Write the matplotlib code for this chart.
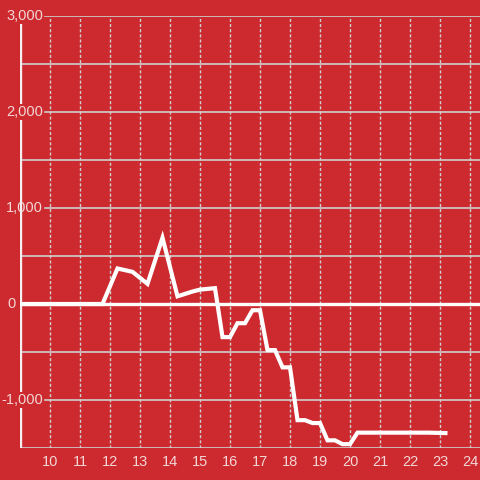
import matplotlib
matplotlib.use("Agg")
import matplotlib.pyplot as plt
import matplotlib.transforms as mtransforms

# ---- data ----
hours = [9.0, 11.75, 12.25, 12.75, 13.25, 13.75, 14.25, 14.75, 15.0, 15.5,
         15.75, 16.0, 16.25, 16.5, 16.75, 17.0, 17.25, 17.5, 17.75, 18.0,
         18.25, 18.5, 18.75, 19.0, 19.25, 19.5, 19.75, 20.0, 20.25, 22.6, 23.25]
values = [0, 0, 370, 335, 210, 690, 80, 130, 150, 165,
          -345, -345, -200, -200, -65, -65, -480, -480, -660, -660,
          -1210, -1210, -1240, -1240, -1420, -1420, -1460, -1460, -1340, -1340, -1345]

x_ticks = list(range(10, 25))
x_tick_labels = [str(t) for t in x_ticks]
y_label_values = [3000, 2000, 1000, 0, -1000]
y_label_texts = ["3,000", "2,000", "1,000", "0", "-1,000"]
y_minor_values = [2500, 1500, 500, -500, -1500]

RED = "#cc2a2f"
GRID = "#cfcfcf"
LABEL = "#f3d6d6"
plt.rcParams['lines.scale_dashes'] = False

fig = plt.figure(figsize=(4.8, 4.8), dpi=100, facecolor=RED)
ax = fig.add_axes([20/480, 32/480, 460/480, 432/480])
ax.set_facecolor(RED)
ax.set_xlim(9, 9 + 460/30)
ax.set_ylim(-1500, 3000)

for s in ax.spines.values():
    s.set_visible(False)
ax.tick_params(left=False, bottom=False, labelleft=False, labelbottom=False)

# vertical dotted gridlines
for t in x_ticks:
    ax.axvline(t, color=GRID, lw=1.0, dashes=(2.2, 1.5), zorder=1)

# horizontal gridlines
label_gap = (45 - 20) / 460
for v in y_label_values:
    if v != 0:
        ax.axhline(v, xmin=label_gap, xmax=1, color=GRID, lw=1.2, zorder=1)
for v in y_minor_values:
    ax.axhline(v, xmin=0, xmax=1, color=GRID, lw=1.2, zorder=1)

# zero line
ax.axhline(0, color="white", lw=2.4, zorder=3)

# left spine
ax.axvline(9, ymin=0, ymax=1, color="#f4f0f0", lw=2.4, zorder=4)

# data line
ax.plot(hours, values, color="white", lw=3.0, solid_joinstyle="miter",
        solid_capstyle="butt", zorder=6)

# y labels
trans = mtransforms.blended_transform_factory(ax.transAxes, ax.transData)
for v, txt in zip(y_label_values, y_label_texts):
    if v == 0:
        ax.text((16 - 20) / 460, v, txt, transform=trans, ha="right", va="center",
                color=LABEL, fontsize=10.5, family="Liberation Sans", zorder=2)
    elif v == 1000:
        ax.text((43 - 20) / 460, v, txt, transform=trans, ha="right", va="center",
                color=LABEL, fontsize=10.5, family="Liberation Sans", zorder=2,
                clip_on=False)
    else:
        ax.text((43 - 20) / 460, v, txt, transform=trans, ha="right", va="center",
                color=LABEL, fontsize=10.5, family="Liberation Sans", zorder=5,
                bbox=dict(facecolor=RED, edgecolor="none", pad=0.5), clip_on=False)

# x labels
xtrans = mtransforms.blended_transform_factory(ax.transData, ax.transAxes)
for t, lab in zip(x_ticks, x_tick_labels):
    ax.text(t, -14/432, lab, transform=xtrans, ha="center", va="center",
            color=LABEL, fontsize=10.5, family="Liberation Sans", clip_on=False)

fig.savefig("out.png", dpi=100, facecolor=RED)
